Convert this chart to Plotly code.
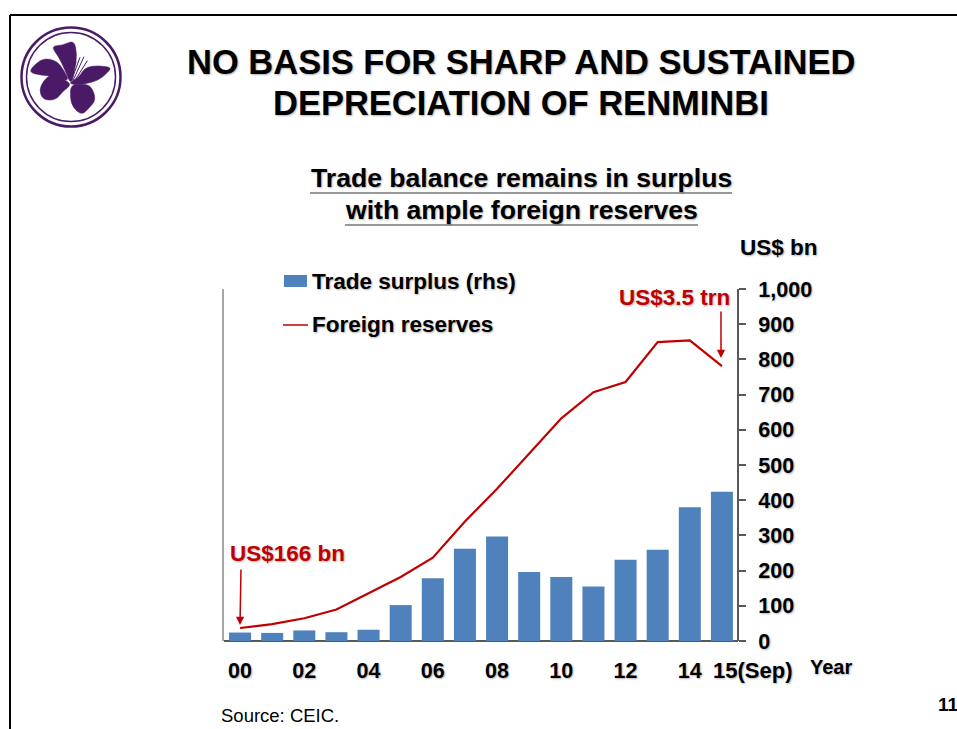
import plotly.graph_objects as go

W, H = 957, 729
years = ["00","01","02","03","04","05","06","07","08","09","10","11","12","13","14","15"]
tick_years = ["00","02","04","06","08","10","12","14"]
trade_surplus = [24,23,30,25,32,102,178,262,297,196,182,155,231,259,380,424]
foreign_reserves = [166,216,291,403,610,819,1066,1528,1946,2399,2847,3181,3312,3821,3843,3514]
bar_name = "Trade surplus (rhs)"
line_name = "Foreign reserves"

RED = "#C00000"; BLUE = "#4F81BD"; PURPLE = "#4A1A66"; AX = "#595959"
SH = "1px 1px 2px rgba(0,0,0,0.3)"
FONT = "Liberation Sans"

def px(x): return x / W
def py(y): return 1 - y / H

fig = go.Figure()
fig.add_trace(go.Bar(x=years, y=trade_surplus, name=bar_name, marker_color=BLUE,
                     marker_line_width=0, yaxis="y", showlegend=False))
fig.add_trace(go.Scatter(x=years, y=foreign_reserves, name=line_name, mode="lines",
                         line=dict(color=RED, width=2.2), yaxis="y2", showlegend=False))

def path(points):
    ca = sum(p[0] for p in points) / len(points)
    cb = sum(p[1] for p in points) / len(points)
    pts = [(px((ca + (a-ca)*1.12)/3), py((cb + (b-cb)*1.12)/3)) for a, b in points]
    n = len(pts)
    mids = [((pts[i][0]+pts[(i+1)%n][0])/2, (pts[i][1]+pts[(i+1)%n][1])/2) for i in range(n)]
    s = f"M {mids[-1][0]:.5f},{mids[-1][1]:.5f}"
    for i in range(n):
        s += f" Q {pts[i][0]:.5f},{pts[i][1]:.5f} {mids[i][0]:.5f},{mids[i][1]:.5f}"
    return s + " Z"

petals = [
    [(212,248),(195,205),(178,170),(158,142),(190,140),(220,126),(228,165),(222,205)],
    [(202,242),(160,226),(125,224),(92,216),(112,192),(135,178),(168,185),(188,212)],
    [(210,255),(185,272),(168,296),(132,296),(122,268),(135,243),(155,226),(185,238)],
    [(216,260),(240,256),(270,260),(284,298),(264,322),(245,340),(220,318),(214,290)],
    [(212,247),(240,232),(260,200),(330,203),(314,222),(292,240),(255,250),(230,252)],
]
shapes = []
for r, w in ((49.5, 2.5), (44.5, 1.5)):
    shapes.append(dict(type="circle", xref="paper", yref="paper", x0=px(71-r), x1=px(71+r),
                       y0=py(77+r), y1=py(77-r), line=dict(color=PURPLE, width=w)))
for p in petals:
    shapes.append(dict(type="path", xref="paper", yref="paper", path=path(p),
                       fillcolor=PURPLE, line=dict(color=PURPLE, width=0.5)))
for a, b in (((210,240),(228,185)), ((214,242),(240,172)), ((218,244),(252,170)), ((222,246),(262,182))):
    shapes.append(dict(type="line", xref="paper", yref="paper", x0=px(a[0]/3), y0=py(a[1]/3),
                       x1=px(b[0]/3), y1=py(b[1]/3), line=dict(color=PURPLE, width=1)))
# slide frame, heading rules, legend keys
for x0, y0, x1, y1, c, w in ((10,15,957,15,"black",2), (10,15,10,729,"black",2),
                             (310,193,732,193,"#333333",1), (345,225,698,225,"#333333",1),
                             (283,325,308,325,RED,1.5)):
    shapes.append(dict(type="line", xref="paper", yref="paper", x0=px(x0), y0=py(y0), x1=px(x1), y1=py(y1),
                       line=dict(color=c, width=w)))
shapes.append(dict(type="rect", xref="paper", yref="paper", x0=px(284), x1=px(307), y0=py(287), y1=py(275),
                   fillcolor=BLUE, line=dict(width=0)))

def label(text, x, y, size, color="black", bold=True, anchor="center", shadow=True):
    return dict(text=f"<b>{text}</b>" if bold else text, xref="paper", yref="paper", x=px(x), y=py(y),
                xanchor=anchor, yanchor="middle", showarrow=False,
                font=dict(family=FONT, size=size, color=color, shadow=SH if shadow else "none"))

def arrow(x0, y0, x1, y1):
    return dict(text="", xref="paper", yref="paper", x=px(x1), y=py(y1), axref="pixel", ayref="pixel",
                ax=x0-x1, ay=y0-y1, showarrow=True, arrowhead=2, arrowsize=1.1, arrowwidth=1.5, arrowcolor=RED)

annotations = [
    label("NO BASIS FOR SHARP AND SUSTAINED", 520.5, 62, 34.5),
    label("DEPRECIATION OF RENMINBI", 521, 103, 34.5),
    label("Trade balance remains in surplus", 521, 178, 26.6),
    label("with ample foreign reserves", 521.5, 210, 26.6),
    label("US$ bn", 779, 248, 22.5),
    label("US$3.5 trn", 674, 297, 22.5, RED),
    label("US$166 bn", 287, 553, 22.5, RED),
    label(bar_name, 309.5, 281, 22.5, anchor="left"),
    label(line_name, 309.5, 325, 22.5, anchor="left"),
    label("15(Sep)", 710.5, 670, 22, anchor="left"),
    label("Year", 831, 667, 20),
    label("Source: CEIC.", 218.5, 715, 18.5, bold=False, anchor="left", shadow=False),
    label("11", 948, 704, 19, shadow=False),
    arrow(241, 568, 240, 625),
    arrow(721, 310, 721, 358),
]

fig.update_layout(
    width=W, height=H, autosize=False, margin=dict(l=0, r=0, t=0, b=0),
    paper_bgcolor="white", plot_bgcolor="white", font=dict(family=FONT, color="black"),
    bargap=0.315, shapes=shapes, annotations=annotations, showlegend=False,
    xaxis=dict(domain=[px(224), px(738)], type="category", categoryorder="array", categoryarray=years,
               range=[-0.5, 15.5], tickmode="array", tickvals=tick_years, ticktext=tick_years,
               ticks="", showgrid=False, zeroline=False, showline=False, ticklabelstandoff=14,
               automargin=False,
               tickfont=dict(family=FONT, size=21.5, weight="bold", shadow=SH)),
    yaxis=dict(domain=[py(641), py(289)], side="right", anchor="free", position=px(738), range=[0, 1000],
               dtick=100, tickformat=",d", ticks="outside", ticklen=7, tickwidth=1.5, tickcolor=AX,
               showgrid=False, zeroline=True, zerolinecolor=AX, zerolinewidth=2, showline=True,
               linecolor=AX, linewidth=2, ticklabelstandoff=8, automargin=False,
               tickfont=dict(family=FONT, size=21.5, weight="bold", shadow=SH)),
    yaxis2=dict(domain=[py(641), py(289)], overlaying="y", side="left", anchor="x", range=[0, 4500],
                showticklabels=False, ticks="", showgrid=False, zeroline=False, automargin=False,
                showline=True, linecolor="#A6A6A6", linewidth=1.5),
)

fig.write_html("out.html", config=dict(displayModeBar=False), post_script="document.body.style.margin='0';")
